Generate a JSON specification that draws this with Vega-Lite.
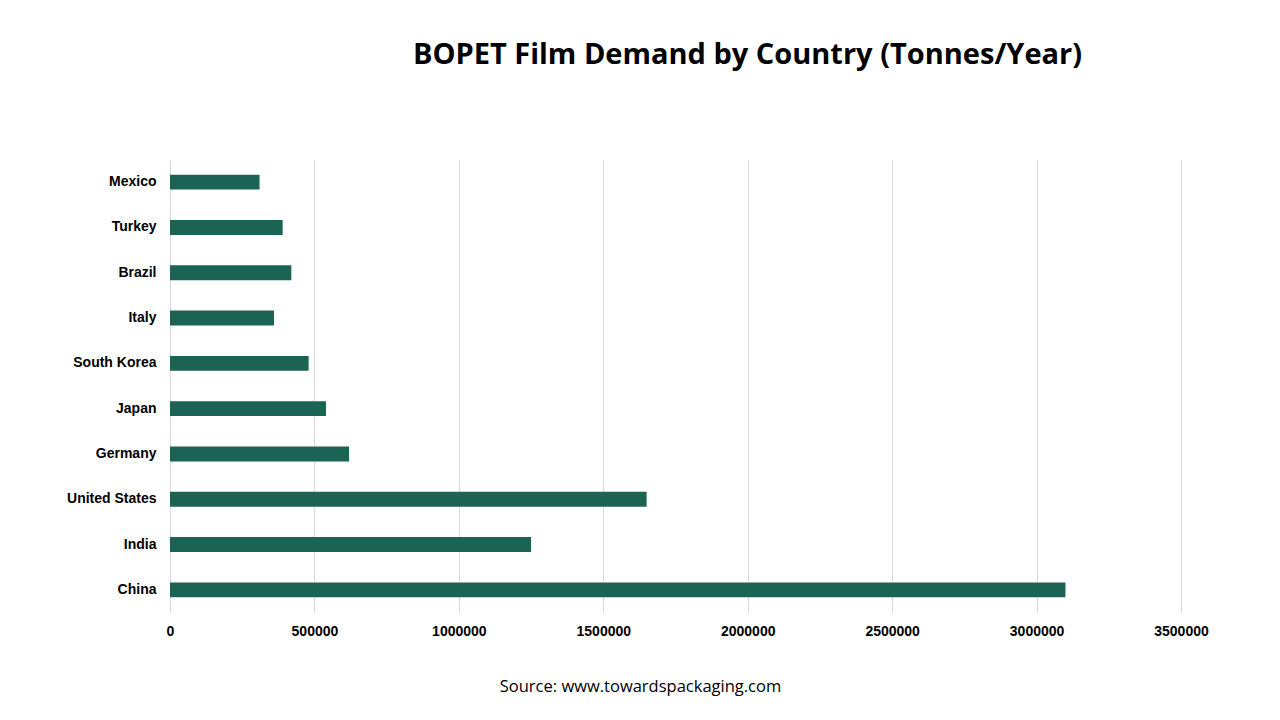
{
  "$schema": "https://vega.github.io/schema/vega-lite/v6.json",
  "autosize": "none",
  "padding": {"left": 170, "top": 159.5, "right": 99, "bottom": 107.5},
  "width": 1011,
  "height": 453,
  "background": "white",
  "title": {
    "text": "BOPET Film Demand by Country (Tonnes/Year)",
    "anchor": "middle",
    "dx": 72,
    "offset": 90,
    "font": "Open Sans",
    "fontSize": 29,
    "fontWeight": "bold",
    "color": "#000000"
  },
  "data": {
    "values": [
      {"country": "Mexico", "demand": 310000},
      {"country": "Turkey", "demand": 390000},
      {"country": "Brazil", "demand": 420000},
      {"country": "Italy", "demand": 360000},
      {"country": "South Korea", "demand": 480000},
      {"country": "Japan", "demand": 540000},
      {"country": "Germany", "demand": 620000},
      {"country": "United States", "demand": 1650000},
      {"country": "India", "demand": 1250000},
      {"country": "China", "demand": 3100000}
    ]
  },
  "mark": {"type": "bar", "color": "#1b6353"},
  "encoding": {
    "y": {
      "field": "country",
      "type": "nominal",
      "sort": null,
      "scale": {"paddingInner": 0.67, "paddingOuter": 0.335},
      "axis": {
        "title": null,
        "domain": false,
        "ticks": false,
        "labelPadding": 14,
        "labelFont": "Liberation Sans",
        "labelFontSize": 14,
        "labelFontWeight": "bold",
        "labelColor": "#000000"
      }
    },
    "x": {
      "field": "demand",
      "type": "quantitative",
      "scale": {"domain": [0, 3500000], "nice": false},
      "axis": {
        "values": [0, 500000, 1000000, 1500000, 2000000, 2500000, 3000000, 3500000],
        "format": "d",
        "labelFlush": false,
        "title": "Source: www.towardspackaging.com",
        "titleFont": "Open Sans",
        "titleFontSize": 16.5,
        "titleFontWeight": "normal",
        "titleColor": "#000000",
        "titleX": 470,
        "titleY": 74,
        "titleBaseline": "middle",
        "titleAnchor": "middle",
        "titleAlign": "center",
        "domain": false,
        "ticks": false,
        "labelPadding": 12,
        "labelFont": "Liberation Sans",
        "labelFontSize": 14,
        "labelFontWeight": "bold",
        "labelColor": "#000000",
        "grid": true,
        "gridColor": "#d9d9d9",
        "gridWidth": 1
      }
    }
  },
  "config": {"view": {"stroke": null}}
}
